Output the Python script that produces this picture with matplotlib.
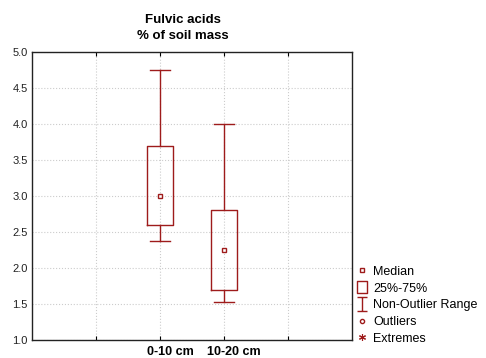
import matplotlib.pyplot as plt
from matplotlib.lines import Line2D
from matplotlib.path import Path

plt.rcParams['font.family'] = ['Liberation Sans', 'DejaVu Sans']

# values
labels = ['0-10 cm', '10-20 cm']
positions = [2, 3]
medians = [3.0, 2.25]
q1 = [2.6, 1.7]
q3 = [3.7, 2.8]
whisk_lo = [2.38, 1.53]
whisk_hi = [4.75, 4.0]

legend_labels = ['Median', '25%-75%', 'Non-Outlier Range', 'Outliers', 'Extremes']

RED = '#9e1b1b'

fig = plt.figure(figsize=(4.86, 3.58), dpi=100)
ax = fig.add_axes([0.066, 0.05, 0.658, 0.805])

stats = []
for i in range(len(labels)):
    stats.append({'med': medians[i], 'mean': medians[i], 'q1': q1[i], 'q3': q3[i],
                  'whislo': whisk_lo[i], 'whishi': whisk_hi[i], 'fliers': []})

ax.bxp(stats, positions=positions, widths=0.4, showmeans=True, showfliers=False,
       boxprops=dict(color=RED, linewidth=1.0),
       whiskerprops=dict(color=RED, linewidth=1.0),
       capprops=dict(color=RED, linewidth=1.0),
       medianprops=dict(linestyle='none'),
       meanprops=dict(marker='s', markersize=3.5, markerfacecolor='white',
                      markeredgecolor=RED, markeredgewidth=1.0),
       capwidths=0.3)

ax.set_xlim(0, 5)
ax.set_ylim(1.0, 5.0)
ax.set_yticks([1.0, 1.5, 2.0, 2.5, 3.0, 3.5, 4.0, 4.5, 5.0])
# gridlines / tick marks on the major ticks, category names a bit right of them
ax.set_xticks([1, 2, 3, 4])
ax.set_xticklabels([])
ax.set_xticks([p + 0.16 for p in positions], minor=True)
ax.set_xticklabels(labels, minor=True, fontsize=9, fontweight='bold')
ax.tick_params(axis='x', which='minor', length=0, pad=4)
ax.tick_params(axis='x', which='major', length=3, direction='in', top=True)
ax.tick_params(axis='y', labelsize=8, length=0, pad=3)
for t in ax.get_yticklabels():
    t.set_color('#222222')
ax.grid(True, which='major', color='#cccccc', linestyle=':', linewidth=0.8)
ax.set_axisbelow(True)
for s in ax.spines.values():
    s.set_color('#222222')
    s.set_linewidth(1.0)

ax.set_title('Fulvic acids\n% of soil mass', fontsize=9.5, fontweight='bold',
             pad=9, x=0.472, linespacing=1.45)

# whisker-like marker for the legend
whisk_path = Path([(-0.38, 0.5), (0.38, 0.5), (0, 0.5), (0, -0.5), (-0.38, -0.5), (0.38, -0.5)],
                  [Path.MOVETO, Path.LINETO, Path.MOVETO, Path.LINETO, Path.MOVETO, Path.LINETO])
box_path = Path([(-0.42, -0.5), (0.42, -0.5), (0.42, 0.5), (-0.42, 0.5), (-0.42, -0.5)],
                [Path.MOVETO, Path.LINETO, Path.LINETO, Path.LINETO, Path.CLOSEPOLY])
handles = [
    Line2D([], [], linestyle='none', marker='s', markersize=3.5, markerfacecolor='white',
           markeredgecolor=RED, markeredgewidth=1.0),
    Line2D([], [], linestyle='none', marker=box_path, markersize=9, markerfacecolor='white',
           markeredgecolor=RED, markeredgewidth=1.0),
    Line2D([], [], linestyle='none', marker=whisk_path, markersize=9.5, markerfacecolor='none',
           markeredgecolor=RED, markeredgewidth=1.0),
    Line2D([], [], linestyle='none', marker='o', markersize=3, markerfacecolor='white',
           markeredgecolor=RED, markeredgewidth=1.0),
    Line2D([], [], linestyle='none', marker=(6, 2, 0), markersize=5,
           markeredgecolor=RED, markeredgewidth=0.8),
]
fig.legend(handles, legend_labels, loc='upper left', bbox_to_anchor=(0.722, 0.275),
           frameon=False, fontsize=9, handlelength=0.8, handletextpad=0.5,
           labelspacing=0.38, borderpad=0)

fig.savefig('out.png', dpi=100)
